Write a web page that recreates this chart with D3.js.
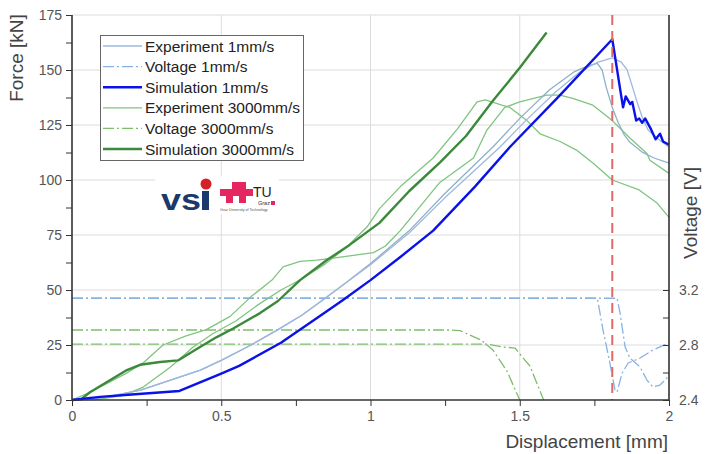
<!DOCTYPE html>
<html>
<head>
<meta charset="utf-8">
<script src="https://cdn.jsdelivr.net/npm/d3@7"></script>
<style>
  body { margin: 0; background: #fff; }
  svg { font-family: "Liberation Sans", Arial, sans-serif; }
</style>
</head>
<body>
<div id="chart"></div>
<script>
// displacement [mm], force [kN]
const simulation1 = [[0,0],[0.094,1.4],[0.2,2.5],[0.36,4.1],[0.5,12],[0.56,15.5],[0.7,26],[0.85,40],[0.908,45.5],[1.0,54.5],[1.1,65],[1.21,77],[1.35,97],[1.467,115],[1.635,138.6],[1.81,164],[1.846,133],[1.855,138],[1.87,134.5],[1.877,135.5],[1.89,127],[1.9,128],[1.91,126],[1.92,128],[1.94,123],[1.955,118.5],[1.97,121],[1.98,117.5],[2.0,116]];
const experiment1a = [[0,0],[0.1,1],[0.23,4.5],[0.33,9],[0.43,13.6],[0.5,18],[0.6,25],[0.69,32],[0.77,38.5],[0.84,45.5],[0.92,53.5],[1.0,62],[1.13,77],[1.25,94],[1.41,115],[1.5,128],[1.6,141],[1.68,149],[1.73,152],[1.76,153],[1.776,150],[1.79,142],[1.81,133],[1.83,126],[1.85,120.5],[1.87,117],[1.91,112.7],[1.95,110],[2.0,107.7]];
const experiment1b = [[0,0],[0.1,1],[0.23,4.5],[0.33,9],[0.43,13.6],[0.5,18],[0.6,25],[0.69,32],[0.77,38.5],[0.84,45.5],[0.92,53.5],[1.0,61.5],[1.13,76],[1.25,92],[1.434,115],[1.52,127],[1.62,140],[1.7,149],[1.76,153.5],[1.81,155.5],[1.84,153.6],[1.86,150],[1.876,143],[1.893,135.5],[1.91,128.6],[1.93,122.7],[1.96,119],[2.0,115]];
const simulation3000 = [[0,0],[0.03,0.3],[0.06,3.5],[0.127,9],[0.184,13.6],[0.228,16],[0.295,17.3],[0.355,18],[0.385,20.5],[0.44,25],[0.485,28.6],[0.54,32.5],[0.63,39.5],[0.69,45],[0.764,54.5],[0.854,63.6],[0.93,70.5],[1.03,80.5],[1.13,95],[1.233,108],[1.32,120],[1.41,136],[1.5,151],[1.59,167]];
const experiment3000a = [[0,0],[0.08,0.2],[0.17,2],[0.24,6],[0.33,15],[0.405,24],[0.47,30],[0.55,36],[0.62,43],[0.7,50],[0.77,55],[0.85,62],[0.92,69.5],[0.988,78.6],[1.03,87],[1.1,97],[1.21,110],[1.29,123],[1.357,135.5],[1.385,136.4],[1.44,134],[1.467,133],[1.524,127],[1.568,121],[1.635,117.5],[1.69,113.6],[1.745,107.7],[1.81,100],[1.9,95.5],[1.96,89.5],[2.0,83]];
const experiment3000b = [[0,0],[0.06,3.5],[0.13,8.5],[0.18,12],[0.24,17],[0.305,25],[0.38,29],[0.45,32],[0.53,38],[0.6,47],[0.67,54.5],[0.707,60.5],[0.764,63],[0.82,63.6],[0.875,64.5],[0.93,65.5],[1.01,67],[1.05,70],[1.1,77],[1.23,98.6],[1.345,110],[1.39,122.7],[1.45,133],[1.5,135.5],[1.59,138.6],[1.635,138.6],[1.68,137],[1.745,134],[1.81,127],[1.87,119],[1.926,112],[1.936,109],[2.0,103]];

// displacement [mm], voltage [V]
const voltage1a = [[0,3.14],[1.76,3.14],[1.779,2.909],[1.802,2.669],[1.819,2.473],[1.826,2.458],[1.843,2.596],[1.863,2.669],[1.903,2.705],[1.946,2.764],[2.0,2.815]];
const voltage1b = [[0,3.14],[1.826,3.14],[1.836,3.033],[1.853,2.785],[1.869,2.705],[1.903,2.64],[1.926,2.545],[1.946,2.495],[1.97,2.509],[1.993,2.56],[2.0,2.58]];
const voltage3000a = [[0,2.909],[1.266,2.909],[1.3,2.905],[1.37,2.836],[1.41,2.764],[1.457,2.611],[1.5,2.4]];
const voltage3000b = [[0,2.807],[1.39,2.807],[1.445,2.785],[1.484,2.778],[1.534,2.647],[1.58,2.4]];

const markerX = 1.81;

const legendLabels = ["Experiment 1mm/s","Voltage 1mm/s","Simulation 1mm/s","Experiment 3000mm/s","Voltage 3000mm/s","Simulation 3000mm/s"];

const forceTicks = d3.range(0, 176, 12.5);
const dispTicks = d3.range(0, 2.01, 0.25);
const voltTicks = [2.4, 2.6, 2.8, 3.0, 3.2];

const W = 706, H = 454;
const mLeft = 72, mRight = 669, mTop = 15, mBottom = 400;

const svg = d3.select('#chart').append('svg')
  .attr('width', W).attr('height', H);

const x = d3.scaleLinear().domain([0, 2]).range([mLeft, mRight]);
const y = d3.scaleLinear().domain([0, 175]).range([mBottom, mTop]);
// voltage axis: 0.4 V per 25 kN
const v = d3.scaleLinear().domain([2.4, 2.4 + (mBottom - mTop) / 137.5]).range([mBottom, mTop]);

// grid
svg.append('g').selectAll('line.h')
  .data(d3.range(25, 176, 25)).enter().append('line')
    .attr('x1', mLeft).attr('x2', mRight)
    .attr('y1', d => y(d)).attr('y2', d => y(d))
    .attr('stroke', '#dcdcdc').attr('stroke-width', 1);
svg.append('g').selectAll('line.v')
  .data([0.5, 1, 1.5]).enter().append('line')
    .attr('x1', d => x(d)).attr('x2', d => x(d))
    .attr('y1', mTop).attr('y2', mBottom)
    .attr('stroke', '#dcdcdc').attr('stroke-width', 1);

// logos (white plate over the grid)
const logo = svg.append('g');
logo.append('rect').attr('x', 155).attr('y', 176).attr('width', 124).attr('height', 38).attr('fill', '#fff');
logo.append('text').attr('x', 161).attr('y', 210)
  .attr('font-weight', 'bold').attr('font-size', 29).attr('fill', '#1b3a6b')
  .attr('textLength', 40).attr('lengthAdjust', 'spacingAndGlyphs')
  .text('vs');
logo.append('rect').attr('x', 202).attr('y', 191).attr('width', 7).attr('height', 19).attr('fill', '#1b3a6b');
logo.append('circle').attr('cx', 206).attr('cy', 184).attr('r', 5.5).attr('fill', '#d42027');
const tuBlocks = [[232,182,14,7],[220,189,33,7],[226,196,7,7],[239,196,7,7]];
logo.selectAll('rect.tu').data(tuBlocks).enter().append('rect')
  .attr('x', d => d[0]).attr('y', d => d[1]).attr('width', d => d[2]).attr('height', d => d[3])
  .attr('fill', '#e5265f');
logo.append('text').attr('x', 253).attr('y', 197).attr('font-size', 14).attr('fill', '#222').text('TU');
logo.append('text').attr('x', 258).attr('y', 205).attr('font-size', 5.5).attr('fill', '#333').text('Graz');
logo.append('rect').attr('x', 271).attr('y', 201).attr('width', 4).attr('height', 4).attr('fill', '#e5265f');
logo.append('text').attr('x', 220).attr('y', 211).attr('font-size', 3.6).attr('fill', '#555').text('Graz University of Technology');

// series
const lineF = d3.line().x(d => x(d[0])).y(d => y(d[1]));
const lineV = d3.line().x(d => x(d[0])).y(d => v(d[1]));

const cExp1 = '#9db8de', cExp1b = '#8fb0c9', cVolt1 = '#88b2e2', cSim1 = '#0a12e8';
const cExp3 = '#7fc47f', cVolt3 = '#7fbd6d', cSim3 = '#3b8a3b';
const dashDot = '11,3,2,3';

const plot = svg.append('g');
function draw(data, gen, color, width, dash) {
  plot.append('path').datum(data)
    .attr('d', gen).attr('fill', 'none')
    .attr('stroke', color).attr('stroke-width', width)
    .attr('stroke-linejoin', 'round')
    .attr('stroke-dasharray', dash || null);
}
draw(voltage3000a, lineV, cVolt3, 1.3, dashDot);
draw(voltage3000b, lineV, cVolt3, 1.3, dashDot);
draw(voltage1a, lineV, cVolt1, 1.3, dashDot);
draw(voltage1b, lineV, cVolt1, 1.3, dashDot);
draw(experiment3000a, lineF, cExp3, 1.3);
draw(experiment3000b, lineF, cExp3, 1.3);
draw(experiment1a, lineF, cExp1b, 1.3);
draw(experiment1b, lineF, cExp1, 1.3);
draw(simulation3000, lineF, cSim3, 2.4);
draw(simulation1, lineF, cSim1, 2.4);

// red dashed marker
svg.append('line')
  .attr('x1', x(markerX)).attr('x2', x(markerX))
  .attr('y1', mTop).attr('y2', mBottom)
  .attr('stroke', '#e06a6a').attr('stroke-width', 2)
  .attr('stroke-dasharray', '10,6');

// axes
const tickColor = '#555';
const gl = svg.append('g').attr('transform', `translate(${mLeft},0)`)
  .call(d3.axisLeft(y).tickValues(forceTicks).tickSize(6).tickPadding(4)
    .tickFormat(d => d % 25 === 0 ? d : ''));
const gb = svg.append('g').attr('transform', `translate(0,${mBottom})`)
  .call(d3.axisBottom(x).tickValues(dispTicks).tickSize(6).tickPadding(5)
    .tickFormat(d => Math.abs(d * 2 - Math.round(d * 2)) < 1e-6 ? String(+d.toFixed(2)) : ''));
const gr = svg.append('g').attr('transform', `translate(${mRight},0)`)
  .call(d3.axisRight(v).tickValues(voltTicks).tickSize(0).tickPadding(10)
    .tickFormat(d => [2.4, 2.8, 3.2].some(t => Math.abs(t - d) < 1e-6) ? d.toFixed(1) : ''));
gr.selectAll('.tick').append('line').attr('x1', -6).attr('x2', 0).attr('stroke', '#333');

[gl, gb, gr].forEach(g => {
  g.select('.domain').attr('stroke', '#333').attr('stroke-width', 1.6);
  g.selectAll('.tick line').attr('stroke', '#333');
  g.selectAll('.tick text').attr('fill', tickColor).attr('font-size', 14)
    .attr('font-family', 'Liberation Sans, Arial, sans-serif');
});
gr.select('.domain').attr('d', `M0,${mTop}V${mBottom}`);
gl.select('.domain').attr('d', `M0,${mTop}V${mBottom}`);
gb.select('.domain').attr('d', `M${mLeft},0H${mRight}`);

// axis titles
svg.append('text').attr('transform', 'translate(23,58) rotate(-90)')
  .attr('text-anchor', 'middle').attr('font-size', 19).attr('fill', '#444').text('Force [kN]');
svg.append('text').attr('x', 668).attr('y', 448)
  .attr('text-anchor', 'end').attr('font-size', 19).attr('fill', '#444').text('Displacement [mm]');
svg.append('text').attr('transform', 'translate(697,213) rotate(-90)')
  .attr('text-anchor', 'middle').attr('font-size', 19).attr('fill', '#444').text('Voltage [V]');

// legend
const legendStyles = [
  {c: cExp1, w: 1.3, d: null}, {c: cVolt1, w: 1.3, d: dashDot}, {c: cSim1, w: 2.4, d: null},
  {c: cExp3, w: 1.3, d: null}, {c: cVolt3, w: 1.3, d: dashDot}, {c: cSim3, w: 2.4, d: null}
];
const lg = svg.append('g');
lg.append('rect').attr('x', 100.5).attr('y', 35.5).attr('width', 203).attr('height', 125)
  .attr('fill', '#fff').attr('stroke', '#666').attr('stroke-width', 1);
const item = lg.selectAll('g.item').data(legendLabels).enter().append('g')
  .attr('transform', (d, i) => `translate(0,${46 + i * 20.6})`);
item.append('line').attr('x1', 103).attr('x2', 142).attr('y1', 0).attr('y2', 0)
  .attr('stroke', (d, i) => legendStyles[i].c)
  .attr('stroke-width', (d, i) => legendStyles[i].w)
  .attr('stroke-dasharray', (d, i) => legendStyles[i].d);
item.append('text').attr('x', 145).attr('y', 5.5).attr('font-size', 15.5).attr('fill', '#222').text(d => d);
</script>
</body>
</html>
